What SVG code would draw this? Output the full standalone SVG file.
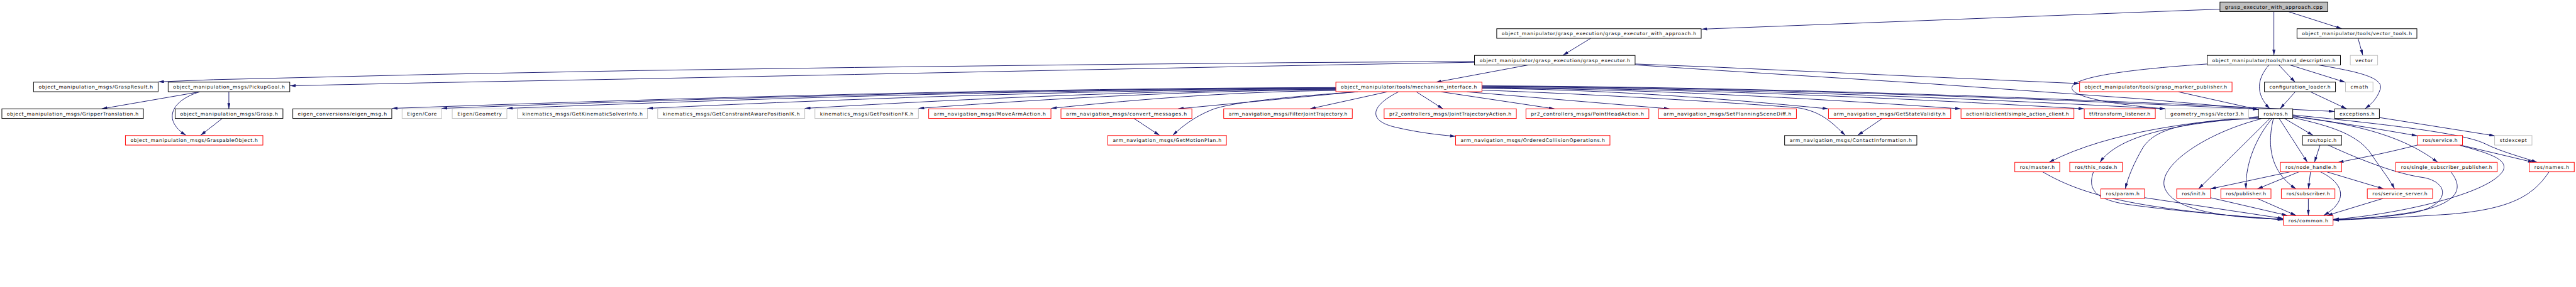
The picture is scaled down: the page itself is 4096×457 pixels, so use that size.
<svg xmlns="http://www.w3.org/2000/svg" width="4096" height="457" viewBox="0 0 4096 457">
<defs>
<style>
.node rect{fill:#fff;stroke-width:1.4}
.b rect{stroke:#000}
.r rect{stroke:#ff0000}
.g rect{stroke:#bfbfbf}
.root rect{fill:#bfbfbf;stroke:#000}
.node text{font-family:"DejaVu Sans","Liberation Sans",sans-serif;font-size:11px;fill:#000;text-anchor:middle}
.e{fill:none;stroke:#191970;stroke-width:1.4}
</style>
<marker id="a" markerUnits="userSpaceOnUse" viewBox="0 0 13 7" refX="13" refY="3.5" markerWidth="13" markerHeight="7" orient="auto"><path d="M0,0 L13,3.5 L0,7 z" fill="#191970"/></marker>
</defs>
<rect width="4096" height="457" fill="#fff"/>
<g transform="scale(0.69318)">
<g id="edges">
<path class="e" marker-end="url(#a)" d="M5092,21 L3903,67"/>
<path class="e" marker-end="url(#a)" d="M5216,27 L5216,127"/>
<path class="e" marker-end="url(#a)" d="M5250,27 L5372,66"/>
<path class="e" marker-end="url(#a)" d="M5409,88 L5420,127"/>
<path class="e" marker-end="url(#a)" d="M3649,88 L3585,127"/>
<path class="e" marker-end="url(#a)" d="M3382,141 L2950,144 L2450,149 L1960,155 L1470,162 L990,171 L490,183 L363,188"/>
<path class="e" marker-end="url(#a)" d="M3382,143 L2950,151 L2450,161 L1960,171 L1470,181 L990,190 L665,197"/>
<path class="e" marker-end="url(#a)" d="M3507,149 L3293,189"/>
<path class="e" marker-end="url(#a)" d="M3751,147 L3930,154 L4410,176 L4770,192"/>
<path class="e" marker-end="url(#a)" d="M3751,149 L3930,161 L4420,192 L4910,227 L5181,251"/>
<path class="e" marker-end="url(#a)" d="M525,211 L525,250"/>
<path class="e" marker-end="url(#a)" d="M458,211 L233,250"/>
<path class="e" marker-end="url(#a)" d="M458,211 C395,230 370,275 427,311"/>
<path class="e" marker-end="url(#a)" d="M510,272 L460,311"/>
<path class="e" marker-end="url(#a)" d="M3064,201 C2342,203 1621,223 899,249"/>
<path class="e" marker-end="url(#a)" d="M3064,202 C2380,204 1697,223 1013,249"/>
<path class="e" marker-end="url(#a)" d="M3064,203 C2430,205 1797,224 1163,249"/>
<path class="e" marker-end="url(#a)" d="M3064,204 C2538,206 2011,224 1485,249"/>
<path class="e" marker-end="url(#a)" d="M3064,205 C2658,207 2252,225 1846,249"/>
<path class="e" marker-end="url(#a)" d="M3064,206 C2745,208 2426,225 2107,249"/>
<path class="e" marker-end="url(#a)" d="M3064,208 C2846,210 2629,226 2411,249"/>
<path class="e" marker-end="url(#a)" d="M3110,211 L2702,250"/>
<path class="e" marker-end="url(#a)" d="M3115,211 C2950,222 2820,236 2780,252 C2740,268 2712,290 2690,311"/>
<path class="e" marker-end="url(#a)" d="M2601,272 L2660,311"/>
<path class="e" marker-end="url(#a)" d="M3182,211 L3005,250"/>
<path class="e" marker-end="url(#a)" d="M3208,211 C3140,245 3140,278 3200,292 C3250,304 3300,310 3339,313"/>
<path class="e" marker-end="url(#a)" d="M3249,211 L3310,250"/>
<path class="e" marker-end="url(#a)" d="M3306,211 L3566,250"/>
<path class="e" marker-end="url(#a)" d="M3365,211 L3830,250"/>
<path class="e" marker-end="url(#a)" d="M3399,203 C3664,205 3929,224 4194,250"/>
<path class="e" marker-end="url(#a)" d="M3399,202 C3765,204 4132,224 4498,250"/>
<path class="e" marker-end="url(#a)" d="M3399,201 C3860,203 4320,223 4781,250"/>
<path class="e" marker-end="url(#a)" d="M3399,207 C3700,218 4000,238 4120,247 C4180,255 4205,285 4233,311"/>
<path class="e" marker-end="url(#a)" d="M4318,272 L4261,311"/>
<path class="e" marker-end="url(#a)" d="M3399,199 C3922,202 4444,222 4967,250"/>
<path class="e" marker-end="url(#a)" d="M3399,198 C3993,201 4587,222 5181,251"/>
<path class="e" marker-end="url(#a)" d="M3399,197 C4051,200 4703,224 5355,256"/>
<path class="e" marker-end="url(#a)" d="M5205,149 C5178,180 5172,215 5207,250"/>
<path class="e" marker-end="url(#a)" d="M5227,149 L5265,189"/>
<path class="e" marker-end="url(#a)" d="M5252,149 L5380,189"/>
<path class="e" marker-end="url(#a)" d="M5317,149 C5390,162 5470,175 5460,205 C5452,228 5440,238 5425,250"/>
<path class="e" marker-end="url(#a)" d="M5063,147 C4900,158 4760,175 4753,200 C4746,225 4870,242 4967,250"/>
<path class="e" marker-end="url(#a)" d="M4997,211 L5181,252"/>
<path class="e" marker-end="url(#a)" d="M5265,211 L5230,250"/>
<path class="e" marker-end="url(#a)" d="M5300,211 L5383,250"/>
<path class="e" marker-end="url(#a)" d="M5458,270 L5723,312"/>
<path class="e" marker-end="url(#a)" d="M5240,272 L5306,311"/>
<path class="e" marker-end="url(#a)" d="M5228,272 L5293,373"/>
<path class="e" marker-end="url(#a)" d="M5207,272 L5043,434"/>
<path class="e" marker-end="url(#a)" d="M5212,272 C5180,310 5150,370 5152,434"/>
<path class="e" marker-end="url(#a)" d="M5215,272 C5203,320 5200,390 5267,434"/>
<path class="e" marker-end="url(#a)" d="M5187,273 C5060,305 4950,380 4965,430 C4985,490 5130,500 5237,504"/>
<path class="e" marker-end="url(#a)" d="M5181,268 C5050,278 4840,300 4700,373"/>
<path class="e" marker-end="url(#a)" d="M5181,270 C5000,282 4860,310 4817,373"/>
<path class="e" marker-end="url(#a)" d="M5181,272 C5000,278 4940,300 4915,340 C4895,375 4882,405 4875,434"/>
<path class="e" marker-end="url(#a)" d="M5259,266 C5350,280 5450,295 5545,312"/>
<path class="e" marker-end="url(#a)" d="M5259,268 C5420,286 5520,318 5592,373"/>
<path class="e" marker-end="url(#a)" d="M5259,264 C5450,283 5650,305 5700,330 C5740,350 5790,362 5820,373"/>
<path class="e" marker-end="url(#a)" d="M5259,270 C5350,290 5410,310 5440,355 C5460,385 5480,410 5493,434"/>
<path class="e" marker-end="url(#a)" d="M5322,333 L5309,373"/>
<path class="e" marker-end="url(#a)" d="M5340,333 C5420,370 5500,400 5560,408 C5620,420 5620,470 5540,488 C5470,500 5400,503 5352,505"/>
<path class="e" marker-end="url(#a)" d="M5546,333 C5480,350 5420,362 5363,373"/>
<path class="e" marker-end="url(#a)" d="M5643,333 L5812,373"/>
<path class="e" marker-end="url(#a)" d="M5643,334 C5700,350 5760,365 5740,395 C5700,450 5480,495 5352,504"/>
<path class="e" marker-end="url(#a)" d="M5622,395 C5650,430 5640,460 5570,480 C5500,497 5400,503 5352,505"/>
<path class="e" marker-end="url(#a)" d="M5847,395 C5810,450 5760,480 5620,492 C5500,500 5420,503 5352,506"/>
<path class="e" marker-end="url(#a)" d="M5466,456 L5338,495"/>
<path class="e" marker-end="url(#a)" d="M5252,395 L5070,434"/>
<path class="e" marker-end="url(#a)" d="M5273,395 L5178,434"/>
<path class="e" marker-end="url(#a)" d="M5300,395 L5295,434"/>
<path class="e" marker-end="url(#a)" d="M5323,395 C5375,420 5390,460 5330,495"/>
<path class="e" marker-end="url(#a)" d="M5338,395 L5468,434"/>
<path class="e" marker-end="url(#a)" d="M5070,454 L5247,495"/>
<path class="e" marker-end="url(#a)" d="M5178,456 L5267,495"/>
<path class="e" marker-end="url(#a)" d="M5295,456 L5295,495"/>
<path class="e" marker-end="url(#a)" d="M4919,454 L5238,502"/>
<path class="e" marker-end="url(#a)" d="M4686,395 C4780,450 4900,480 5238,505"/>
<path class="e" marker-end="url(#a)" d="M4802,395 C4790,430 4800,455 4870,468 C4950,480 5100,495 5238,504"/>
</g>
<g id="n1" class="node root"><rect x="5092.3" y="4.7" width="247" height="22"/><text x="5215.8" y="19.7" textLength="224">grasp_executor_with_approach.cpp</text></g>
<g id="n2" class="node b"><rect x="3433.3" y="66" width="469" height="22"/><text x="3667.8" y="81" textLength="446">object_manipulator/grasp_execution/grasp_executor_with_approach.h</text></g>
<g id="n3" class="node b"><rect x="5269" y="66" width="275" height="22"/><text x="5406.5" y="81" textLength="252">object_manipulator/tools/vector_tools.h</text></g>
<g id="n4" class="node b"><rect x="3382.3" y="127.3" width="368.4" height="22"/><text x="3566.5" y="142.3" textLength="345">object_manipulator/grasp_execution/grasp_executor.h</text></g>
<g id="n5" class="node b"><rect x="5063" y="127.3" width="305.7" height="22"/><text x="5215.8" y="142.3" textLength="283">object_manipulator/tools/hand_description.h</text></g>
<g id="n6" class="node g"><rect x="5391.3" y="127.3" width="62.7" height="22"/><text x="5422.6" y="142.3" textLength="40">vector</text></g>
<g id="n7" class="node b"><rect x="77" y="188.7" width="285.7" height="22"/><text x="219.8" y="203.7" textLength="262">object_manipulation_msgs/GraspResult.h</text></g>
<g id="n8" class="node b"><rect x="385.7" y="188.7" width="279" height="22"/><text x="525.2" y="203.7" textLength="256">object_manipulation_msgs/PickupGoal.h</text></g>
<g id="n9" class="node r"><rect x="3064.3" y="188.7" width="335" height="22"/><text x="3231.8" y="203.7" textLength="312">object_manipulator/tools/mechanism_interface.h</text></g>
<g id="n10" class="node r"><rect x="4770.3" y="188.7" width="349.7" height="22"/><text x="4945.1" y="203.7" textLength="327">object_manipulator/tools/grasp_marker_publisher.h</text></g>
<g id="n11" class="node b"><rect x="5194.3" y="188.7" width="163" height="22"/><text x="5275.8" y="203.7" textLength="140">configuration_loader.h</text></g>
<g id="n12" class="node g"><rect x="5380.3" y="188.7" width="63" height="22"/><text x="5411.8" y="203.7" textLength="40">cmath</text></g>
<g id="n13" class="node b"><rect x="4.3" y="250" width="324.7" height="22"/><text x="166.6" y="265" textLength="302">object_manipulation_msgs/GripperTranslation.h</text></g>
<g id="n14" class="node b"><rect x="401.7" y="250" width="247.3" height="22"/><text x="525.3" y="265" textLength="224">object_manipulation_msgs/Grasp.h</text></g>
<g id="n15" class="node b"><rect x="671.7" y="250" width="227" height="22"/><text x="785.2" y="265" textLength="204">eigen_conversions/eigen_msg.h</text></g>
<g id="n16" class="node g"><rect x="922.3" y="250" width="91" height="22"/><text x="967.8" y="265" textLength="68">Eigen/Core</text></g>
<g id="n17" class="node g"><rect x="1037.3" y="250" width="125.4" height="22"/><text x="1100" y="265" textLength="102">Eigen/Geometry</text></g>
<g id="n18" class="node g"><rect x="1186.7" y="250" width="298.6" height="22"/><text x="1336" y="265" textLength="276">kinematics_msgs/GetKinematicSolverInfo.h</text></g>
<g id="n19" class="node g"><rect x="1508.7" y="250" width="337.3" height="22"/><text x="1677.3" y="265" textLength="314">kinematics_msgs/GetConstraintAwarePositionIK.h</text></g>
<g id="n20" class="node g"><rect x="1869.3" y="250" width="237.4" height="22"/><text x="1988" y="265" textLength="214">kinematics_msgs/GetPositionFK.h</text></g>
<g id="n21" class="node r"><rect x="2130.3" y="250" width="280.4" height="22"/><text x="2270.5" y="265" textLength="257">arm_navigation_msgs/MoveArmAction.h</text></g>
<g id="n22" class="node r"><rect x="2433.7" y="250" width="300.3" height="22"/><text x="2583.8" y="265" textLength="277">arm_navigation_msgs/convert_messages.h</text></g>
<g id="n23" class="node r"><rect x="2807" y="250" width="295" height="22"/><text x="2954.5" y="265" textLength="272">arm_navigation_msgs/FilterJointTrajectory.h</text></g>
<g id="n24" class="node r"><rect x="3175" y="250" width="303.3" height="22"/><text x="3326.6" y="265" textLength="280">pr2_controllers_msgs/JointTrajectoryAction.h</text></g>
<g id="n25" class="node r"><rect x="3500.3" y="250" width="282" height="22"/><text x="3641.3" y="265" textLength="259">pr2_controllers_msgs/PointHeadAction.h</text></g>
<g id="n26" class="node r"><rect x="3804.3" y="250" width="316.4" height="22"/><text x="3962.5" y="265" textLength="293">arm_navigation_msgs/SetPlanningSceneDiff.h</text></g>
<g id="n27" class="node r"><rect x="4194.3" y="250" width="280.4" height="22"/><text x="4334.5" y="265" textLength="257">arm_navigation_msgs/GetStateValidity.h</text></g>
<g id="n28" class="node r"><rect x="4498.3" y="250" width="259" height="22"/><text x="4627.8" y="265" textLength="236">actionlib/client/simple_action_client.h</text></g>
<g id="n29" class="node r"><rect x="4781" y="250" width="163" height="22"/><text x="4862.5" y="265" textLength="140">tf/transform_listener.h</text></g>
<g id="n30" class="node g"><rect x="4967.3" y="250" width="190.7" height="22"/><text x="5062.6" y="265" textLength="168">geometry_msgs/Vector3.h</text></g>
<g id="n31" class="node b"><rect x="5180.7" y="250" width="78.6" height="22"/><text x="5220" y="265" textLength="55">ros/ros.h</text></g>
<g id="n32" class="node b"><rect x="5355.3" y="250" width="102.7" height="22"/><text x="5406.6" y="265" textLength="80">exceptions.h</text></g>
<g id="n33" class="node r"><rect x="287.7" y="311.3" width="315.3" height="22"/><text x="445.3" y="326.3" textLength="292">object_manipulation_msgs/GraspableObject.h</text></g>
<g id="n34" class="node r"><rect x="2541" y="311.3" width="272.3" height="22"/><text x="2677.1" y="326.3" textLength="249">arm_navigation_msgs/GetMotionPlan.h</text></g>
<g id="n35" class="node r"><rect x="3339" y="311.3" width="354" height="22"/><text x="3516" y="326.3" textLength="331">arm_navigation_msgs/OrderedCollisionOperations.h</text></g>
<g id="n36" class="node b"><rect x="4093.7" y="311.3" width="303.3" height="22"/><text x="4245.3" y="326.3" textLength="280">arm_navigation_msgs/ContactInformation.h</text></g>
<g id="n37" class="node b"><rect x="5281.7" y="311.3" width="89.6" height="22"/><text x="5326.5" y="326.3" textLength="66">ros/topic.h</text></g>
<g id="n38" class="node r"><rect x="5545.7" y="311.3" width="103" height="22"/><text x="5597.2" y="326.3" textLength="80">ros/service.h</text></g>
<g id="n39" class="node g"><rect x="5722.3" y="311.3" width="85.7" height="22"/><text x="5765.1" y="326.3" textLength="62">stdexcept</text></g>
<g id="n40" class="node r"><rect x="4621.7" y="372.7" width="103" height="22"/><text x="4673.2" y="387.7" textLength="80">ros/master.h</text></g>
<g id="n41" class="node r"><rect x="4747.7" y="372.7" width="120.6" height="22"/><text x="4808" y="387.7" textLength="97">ros/this_node.h</text></g>
<g id="n42" class="node r"><rect x="5231" y="372.7" width="140.3" height="22"/><text x="5301.1" y="387.7" textLength="117">ros/node_handle.h</text></g>
<g id="n43" class="node r"><rect x="5495.7" y="372.7" width="232.6" height="22"/><text x="5612" y="387.7" textLength="209">ros/single_subscriber_publisher.h</text></g>
<g id="n44" class="node r"><rect x="5801.7" y="372.7" width="103.3" height="22"/><text x="5853.3" y="387.7" textLength="80">ros/names.h</text></g>
<g id="n45" class="node r"><rect x="4819" y="434" width="100.3" height="22"/><text x="4869.1" y="449" textLength="77">ros/param.h</text></g>
<g id="n46" class="node r"><rect x="4993" y="434" width="77.7" height="22"/><text x="5031.8" y="449" textLength="54">ros/init.h</text></g>
<g id="n47" class="node r"><rect x="5094.3" y="434" width="115" height="22"/><text x="5151.8" y="449" textLength="92">ros/publisher.h</text></g>
<g id="n48" class="node r"><rect x="5233" y="434" width="123" height="22"/><text x="5294.5" y="449" textLength="100">ros/subscriber.h</text></g>
<g id="n49" class="node r"><rect x="5430.3" y="434" width="149.7" height="22"/><text x="5505.1" y="449" textLength="126">ros/service_server.h</text></g>
<g id="n50" class="node r"><rect x="5237.7" y="495.3" width="114" height="22"/><text x="5294.7" y="510.3" textLength="91">ros/common.h</text></g>
</g>
</svg>
